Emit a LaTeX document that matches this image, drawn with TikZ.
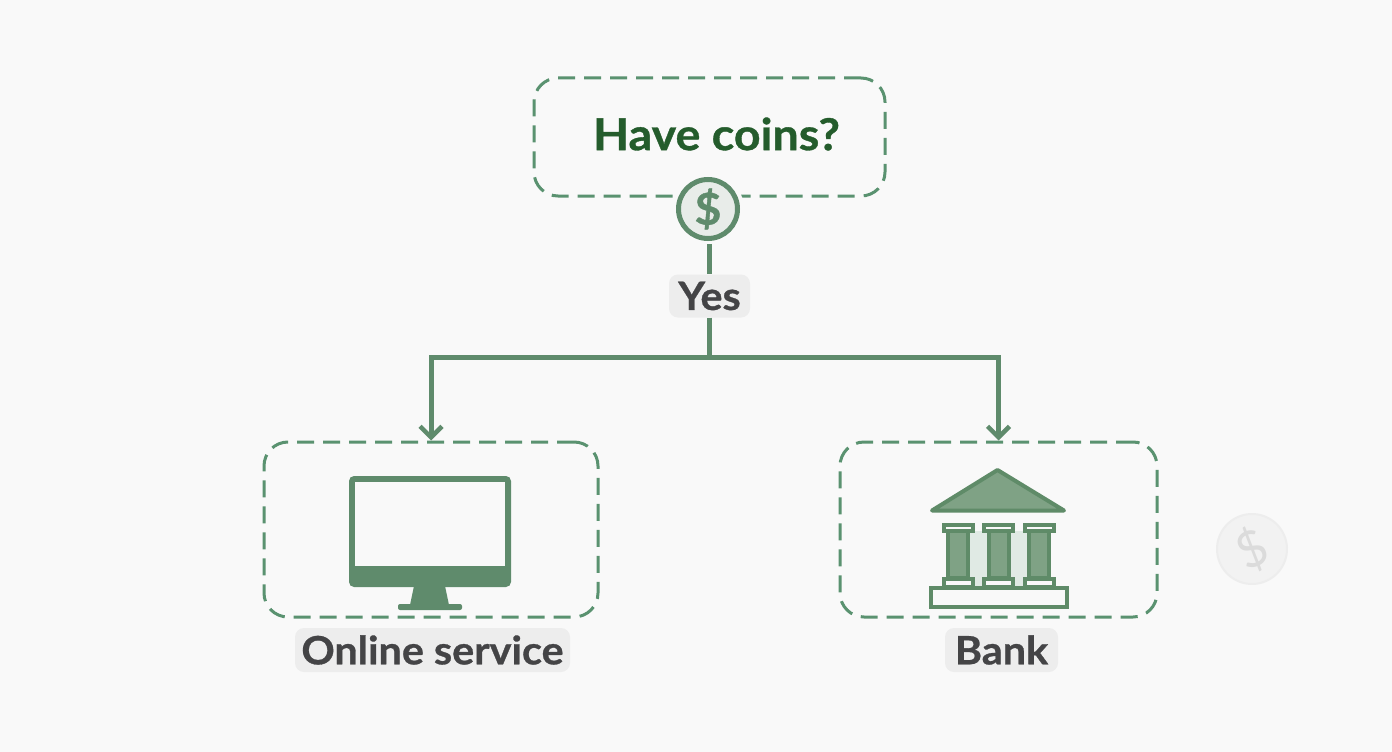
\documentclass[tikz,border=0pt]{standalone}
\usepackage{fontspec}
\setmainfont{Lato}[BoldFont={* Bold},BoldFeatures={FakeBold=0.8,FakeStretch=1.06}]
\usetikzlibrary{arrows.meta}
\definecolor{bg}{HTML}{F9F9F9}
\definecolor{dashgreen}{HTML}{5A9270}
\definecolor{linegreen}{HTML}{5F8B6C}
\definecolor{roofgreen}{HTML}{7FA285}
\definecolor{darkline}{HTML}{5F8B68}
\definecolor{palegreen}{HTML}{E0EAE4}
\definecolor{titlegreen}{HTML}{245C2C}
\definecolor{labelgray}{HTML}{444446}
\definecolor{chipgray}{HTML}{EDEDED}
\tikzset{
  x=1pt,y=-1pt,
  dashbox/.style={draw=dashgreen,line width=3pt,rounded corners=24pt,dash pattern=on 17pt off 9pt,inner sep=0pt,anchor=center},
  chip/.style={fill=chipgray,rounded corners=9pt,text=labelgray,font=\bfseries\fontsize{39}{42}\selectfont,inner sep=0pt,anchor=center},
  conn/.style={draw=linegreen,line width=5pt},
  arrowconn/.style={conn,-{Straight Barb[length=11pt,width=22pt,line width=4.5pt]}},
  iconfill/.style={fill=linegreen,draw=none},
}
\begin{document}
\begin{tikzpicture}
\fill[bg] (0,0) rectangle (1392,752);
\useasboundingbox (0,0) rectangle (1392,752);
% boxes
\node[dashbox,minimum width=351pt,minimum height=118pt] (q) at (709.5,137) {};
\node[text=titlegreen,font=\bfseries\fontsize{44}{46}\selectfont,inner sep=0pt] (qt) at (716.5,134) {Have coins?};
\node[dashbox,minimum width=334pt,minimum height=175pt] (online) at (431,529.5) {};
\node[dashbox,minimum width=317pt,minimum height=175pt] (bank) at (998.5,529.5) {};
% coin
\node[circle,fill=bg,minimum size=72pt,inner sep=0pt] at (708,209) {};
\node[circle,draw=linegreen,line width=5pt,fill=chipgray!60!palegreen,minimum size=59pt,inner sep=0pt,text=linegreen,font=\bfseries\fontsize{44}{46}\selectfont] (coin) at (708,209) {\$};
% yes
\node[chip,minimum width=81pt,minimum height=43pt] (yes) at (709.5,296) {Yes};
\coordinate (j) at (709,357);
\coordinate (coinout) at (709,244);
\draw[conn] (coinout) -- (coinout |- yes.north);
\draw[conn] (j |- yes.south) -- (j);
\draw[arrowconn] (j) -| (online.north);
\draw[arrowconn] (j) -| (bank.north);
% labels
\node[chip,minimum width=275pt,minimum height=44pt] (lo) at (432.5,650) {Online service};
\node[chip,minimum width=113pt,minimum height=44pt] (lb) at (1001.5,650) {Bank};
% monitor
\fill[iconfill,rounded corners=5pt] (349,476) rectangle (511,587);
\fill[bg] (355,482) rectangle (505,566);
\fill[iconfill] (414,586) -- (445,586) -- (449,605) -- (410,605) -- cycle;
\fill[iconfill,rounded corners=2pt] (398,604) rectangle (462,610);
% bank
\fill[palegreen] (968,531) rectangle (1028,587);
\fill[roofgreen,draw=darkline,line width=4pt,line join=round] (997.5,470) -- (1064,510.5) -- (932,510.5) -- cycle;
\foreach \c in {958,998.5,1039}{
  \fill[roofgreen,draw=darkline,line width=4pt] (\c-10,531) rectangle (\c+10,578);
  \fill[bg,draw=darkline,line width=4pt] (\c-14.5,525) rectangle (\c+14.5,531);
  \fill[bg,draw=darkline,line width=4pt] (\c-14.5,579) rectangle (\c+14.5,587);
}
\fill[bg,draw=darkline,line width=4pt] (930.5,588) rectangle (1066.5,607);
% watermark
\node[circle,fill=chipgray!55!bg,draw=chipgray,line width=2pt,minimum size=70pt,inner sep=0pt,text=white!86!black,rotate=25,font=\fontsize{50}{52}\selectfont] (wm) at (1252,549) {\$};
\end{tikzpicture}
\end{document}
